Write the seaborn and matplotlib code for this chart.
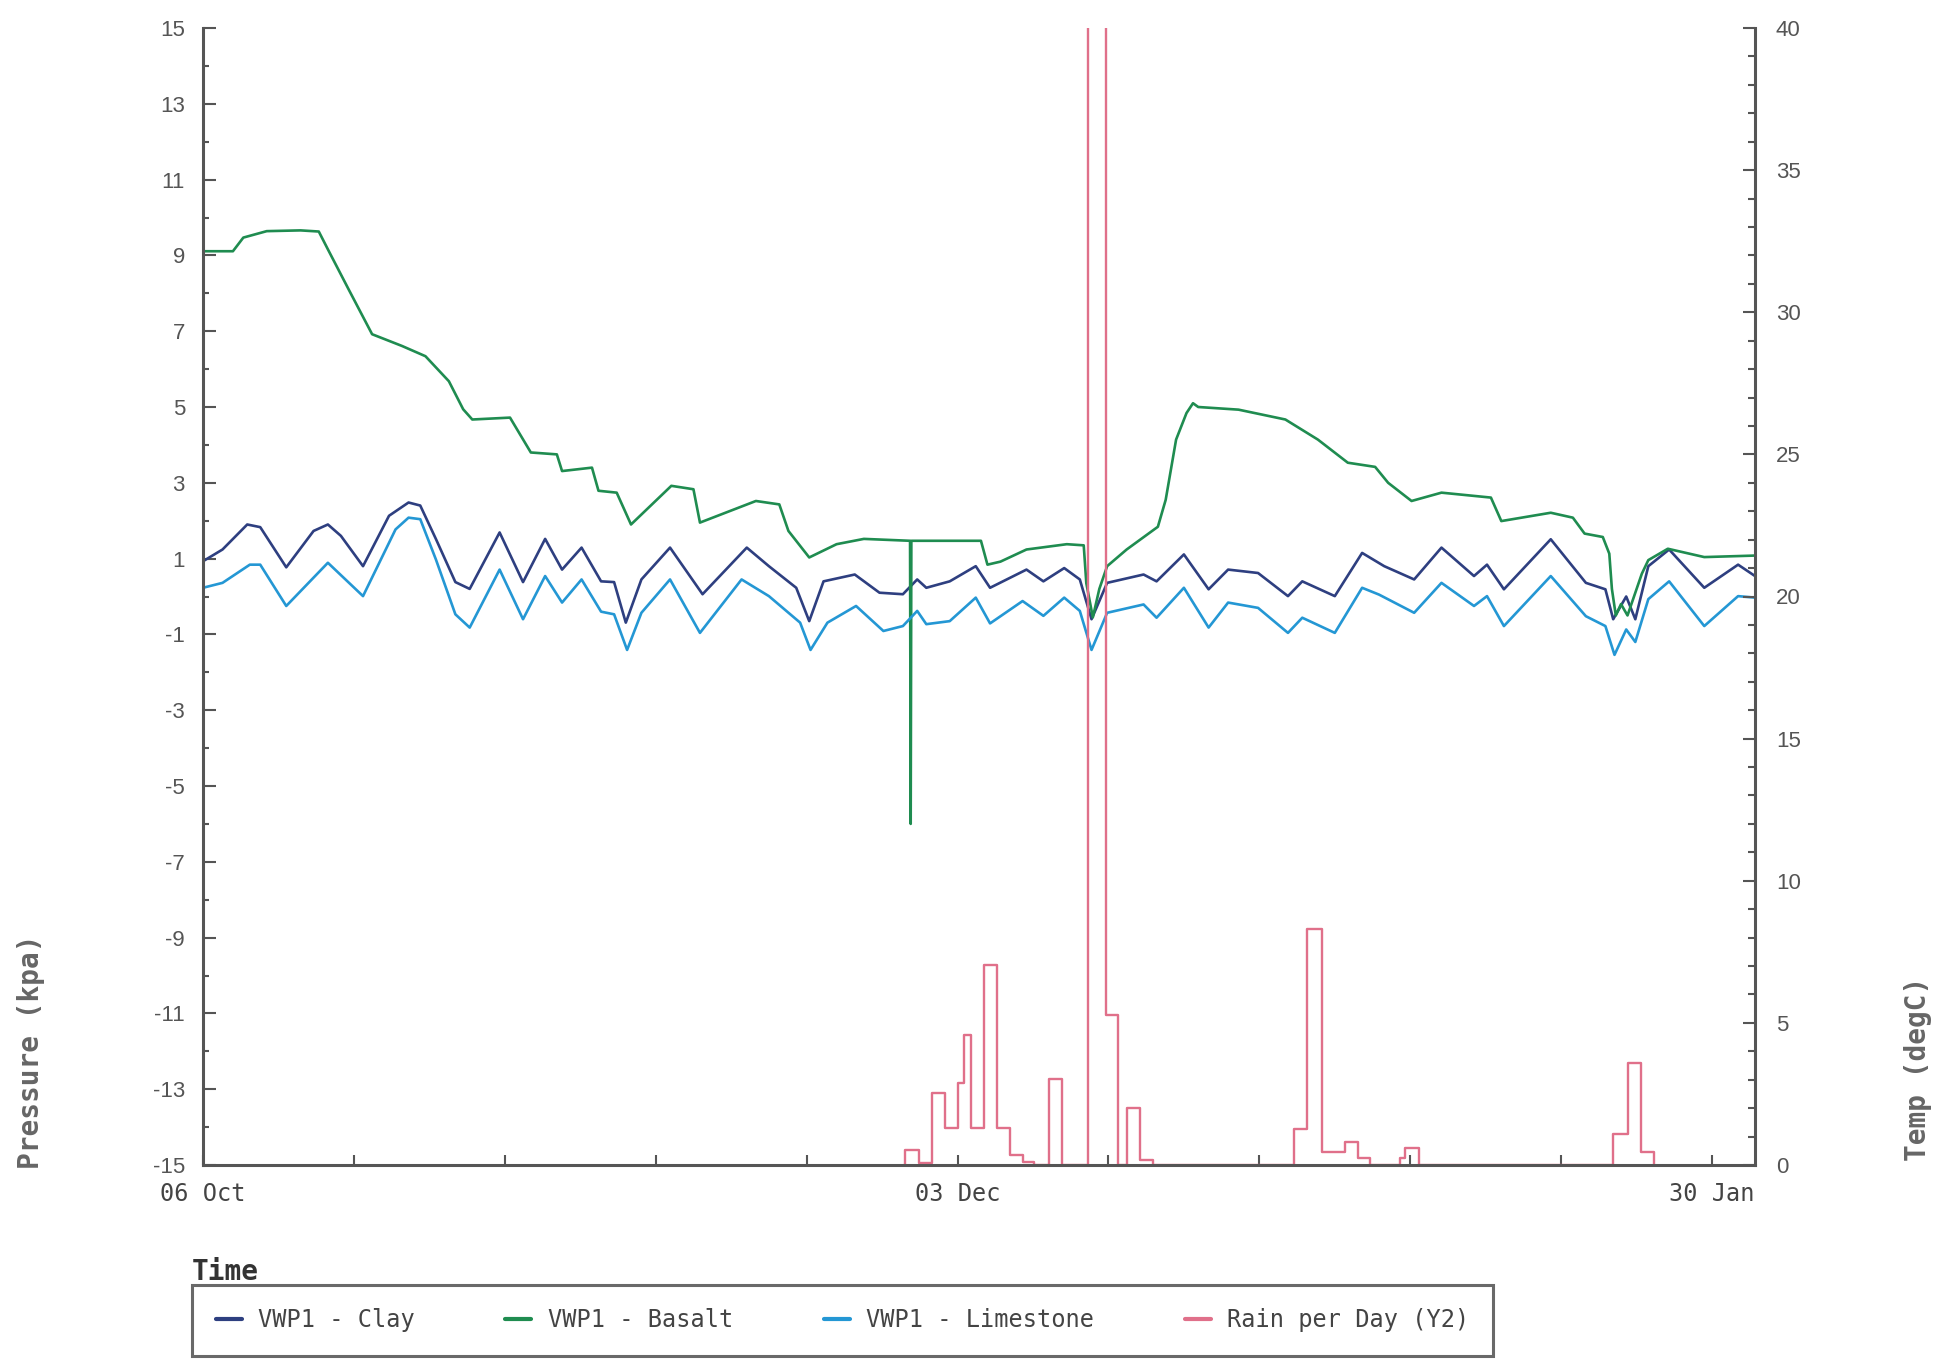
import numpy as np
import pandas as pd
import matplotlib
matplotlib.use("Agg")
import matplotlib.pyplot as plt
import seaborn as sns
from matplotlib.lines import Line2D
from matplotlib.ticker import FixedLocator, MultipleLocator

# ---------------- data (days since 06 Oct) ----------------
basalt_days = [0.0, 2.3, 3.1, 4.9, 7.5, 8.9, 9.6, 11.2, 13.0, 15.3, 17.1, 18.9, 20.0, 20.7,
               23.6, 25.2, 27.2, 27.6, 29.9, 30.4, 31.8, 32.9, 36.0, 37.7, 38.2, 42.5, 44.3,
               45.0, 46.6, 48.7, 50.8, 54.35, 54.4, 54.45, 57.4, 59.8, 60.3, 61.3, 63.3, 66.4,
               67.7, 67.9, 68.4, 68.9, 69.5, 71.0, 73.4, 74.0, 74.8, 75.6, 76.1, 76.5, 79.6,
               83.2, 85.7, 88.0, 90.1, 91.1, 92.9, 95.2, 99.0, 99.8, 103.6, 105.3, 106.2,
               107.6, 108.1, 108.3, 108.6, 109.0, 109.5, 110.0, 110.6, 111.1, 112.6, 115.4, 119.3]
basalt_kpa = [9.11, 9.11, 9.47, 9.64, 9.66, 9.63, 9.16, 8.10, 6.92, 6.61, 6.34, 5.68, 4.94, 4.67,
              4.72, 3.80, 3.75, 3.31, 3.40, 2.79, 2.74, 1.90, 2.92, 2.83, 1.95, 2.52, 2.43,
              1.73, 1.03, 1.38, 1.52, 1.47, -6.0, 1.47, 1.47, 1.47, 0.84, 0.92, 1.24, 1.38,
              1.35, 0.35, -0.55, 0.2, 0.80, 1.24, 1.84, 2.55, 4.14, 4.84, 5.10, 5.0, 4.93,
              4.67, 4.14, 3.53, 3.42, 3.0, 2.52, 2.74, 2.61, 1.99, 2.21, 2.08, 1.66,
              1.57, 1.13, 0.2, -0.5, -0.2, -0.5, 0.0, 0.6, 0.96, 1.26, 1.04, 1.08]

clay_days = [0, 1.5, 3.4, 4.4, 6.4, 8.5, 9.6, 10.6, 12.3, 14.3, 15.8, 16.7, 17.9, 19.4, 20.5,
             22.8, 24.6, 26.3, 27.6, 29.1, 30.6, 31.6, 32.5, 33.7, 35.9, 38.4, 41.8, 43.5,
             45.6, 46.6, 47.7, 50.1, 52.0, 53.8, 54.9, 55.6, 57.4, 59.4, 60.5, 63.3, 64.6,
             66.2, 67.4, 68.3, 69.5, 72.3, 73.3, 75.4, 77.3, 78.8, 81.1, 83.4, 84.5, 87.0,
             89.1, 90.8, 93.1, 95.2, 97.7, 98.7, 100.0, 103.6, 106.3, 107.8, 108.4, 109.4,
             110.1, 111.1, 112.7, 115.4, 118.0, 119.3]
clay_kpa = [0.93, 1.24, 1.90, 1.83, 0.77, 1.73, 1.90, 1.6, 0.80, 2.13, 2.48, 2.4, 1.52, 0.38, 0.20,
            1.69, 0.38, 1.52, 0.71, 1.29, 0.40, 0.38, -0.69, 0.45, 1.29, 0.06, 1.29, 0.80,
            0.23, -0.65, 0.40, 0.58, 0.10, 0.06, 0.45, 0.23, 0.40, 0.80, 0.23, 0.71, 0.40,
            0.75, 0.45, -0.6, 0.36, 0.58, 0.40, 1.11, 0.19, 0.71, 0.62, 0.01, 0.4, 0.01,
            1.15, 0.80, 0.45, 1.29, 0.54, 0.84, 0.19, 1.51, 0.36, 0.19, -0.6, 0.0,
            -0.6, 0.8, 1.24, 0.23, 0.84, 0.54]

lime_days = [0, 1.5, 3.6, 4.4, 6.4, 9.6, 12.3, 14.8, 15.8, 16.7, 17.9, 19.4, 20.5, 22.8, 24.6,
             26.3, 27.6, 29.1, 30.6, 31.6, 32.6, 33.7, 35.9, 38.2, 41.4, 43.5, 45.9, 46.7,
             48.0, 50.2, 52.3, 53.8, 54.9, 55.6, 57.4, 59.4, 60.5, 63.0, 64.6, 66.2, 67.4,
             68.3, 69.5, 72.3, 73.3, 75.4, 77.3, 78.8, 81.1, 83.4, 84.5, 87.0, 89.1, 90.4,
             93.1, 95.2, 97.7, 98.7, 100.0, 103.6, 106.3, 107.8, 108.5, 109.4, 110.1, 111.1,
             112.7, 115.4, 118.0, 119.3]
lime_kpa = [0.23, 0.36, 0.84, 0.84, -0.25, 0.89, 0.01, 1.77, 2.08, 2.04, 0.98, -0.47, -0.82, 0.71,
            -0.60, 0.54, -0.16, 0.45, -0.4, -0.47, -1.41, -0.43, 0.45, -0.96, 0.45, 0.01,
            -0.69, -1.41, -0.69, -0.25, -0.91, -0.78, -0.38, -0.73, -0.65, -0.03, -0.71,
            -0.12, -0.51, -0.03, -0.38, -1.41, -0.43, -0.21, -0.56, 0.23, -0.82, -0.16,
            -0.30, -0.96, -0.56, -0.96, 0.23, 0.05, -0.43, 0.36, -0.25, 0.01, -0.78, 0.54,
            -0.52, -0.78, -1.54, -0.87, -1.2, -0.07, 0.40, -0.78, 0.01, -0.03]

rain_days = [53.9, 54.0, 55.0, 56.0, 57.0, 58.0, 58.5, 59.0, 60.0, 61.0, 62.0, 63.0, 63.9, 65.0,
             66.0, 68.0, 69.4, 70.3, 71.0, 72.0, 73.0, 83.9, 84.9, 86.0, 87.8, 88.8, 89.7,
             92.0, 92.4, 93.5, 108.4, 109.5, 110.5, 111.5]
rain_mm = [0, 0.53, 0.06, 2.54, 1.29, 2.9, 4.57, 1.29, 7.03, 1.29, 0.35, 0.12, 0, 3.01,
           0, 48, 5.28, 0, 1.99, 0.18, 0, 1.25, 8.3, 0.45, 0.80, 0.23, 0,
           0.23, 0.61, 0, 1.08, 3.6, 0.45, 0]

x_tick_days = [0, 58, 116]
x_tick_labels = ["06 Oct", "03 Dec", "30 Jan"]
series_names = ["VWP1 - Clay", "VWP1 - Basalt", "VWP1 - Limestone", "Rain per Day (Y2)"]

# ---------------- style ----------------
sns.set_style("white")
plt.rcParams["font.family"] = ["DejaVu Sans Mono", "DejaVu Sans"]
plt.rcParams["axes.unicode_minus"] = False

c_clay = "#2e3f80"
c_basalt = "#1f8c50"
c_lime = "#2497d4"
c_rain = "#e0708a"
c_axis = "#555555"

W, H = 1938, 1365
fig = plt.figure(figsize=(W / 100, H / 100), dpi=100)
fig.patch.set_facecolor("white")
ax = fig.add_axes([203 / W, 1 - 1165 / H, (1755 - 203) / W, (1165 - 28) / H])
ax2 = ax.twinx()

sns.lineplot(x=clay_days, y=clay_kpa, ax=ax, color=c_clay, lw=1.9, estimator=None, sort=False)
sns.lineplot(x=basalt_days, y=basalt_kpa, ax=ax, color=c_basalt, lw=1.9, estimator=None, sort=False)
sns.lineplot(x=lime_days, y=lime_kpa, ax=ax, color=c_lime, lw=1.9, estimator=None, sort=False)
sns.lineplot(x=rain_days, y=rain_mm, ax=ax2, color=c_rain, lw=1.7, estimator=None, sort=False,
             drawstyle="steps-post")

ax.set_xlim(0, 119.3)
ax.set_ylim(-15, 15)
ax2.set_ylim(0, 40)
ax.set_xlabel("")
ax.set_ylabel("")
ax2.set_ylabel("")

for a in (ax, ax2):
    a.set_facecolor("none")
    a.grid(False)
    for s in a.spines.values():
        s.set_visible(False)
ax.spines["left"].set_visible(True)
ax2.spines["right"].set_visible(True)
ax2.spines["bottom"].set_visible(True)
for s in (ax.spines["left"], ax2.spines["right"], ax2.spines["bottom"]):
    s.set_color(c_axis)
    s.set_linewidth(2.2)

# left axis ticks
ax.yaxis.set_major_locator(FixedLocator(list(range(-15, 16, 2))))
ax.yaxis.set_minor_locator(MultipleLocator(1))
ax.tick_params(axis="y", which="major", direction="in", length=9.5, width=1.5, color=c_axis,
               pad=13, labelsize=16, labelcolor="#555555", left=True, right=False)
ax.tick_params(axis="y", which="minor", direction="in", length=4.5, width=1.5, color=c_axis,
               left=True, right=False)
for t in ax.get_yticklabels():
    t.set_family("Liberation Sans")

# right axis ticks
ax2.yaxis.set_major_locator(FixedLocator(list(range(0, 41, 5))))
ax2.yaxis.set_minor_locator(MultipleLocator(1))
ax2.tick_params(axis="y", which="major", direction="in", length=9, width=1.5, color=c_axis,
                pad=15, labelsize=16, labelcolor="#555555", right=True, left=False)
ax2.tick_params(axis="y", which="minor", direction="in", length=5, width=1.5, color=c_axis,
                right=True, left=False)
for t in ax2.get_yticklabels():
    t.set_family("Liberation Sans")

# x axis ticks
ax.xaxis.set_major_locator(FixedLocator(x_tick_days))
ax.set_xticklabels(x_tick_labels)
ax.xaxis.set_minor_locator(FixedLocator([11.6 * k for k in range(1, 11) if k % 5 != 0]))
ax.tick_params(axis="x", which="both", direction="in", length=7, width=1.5, color=c_axis,
               pad=12, labelsize=17, labelcolor="#444444", bottom=True, top=False)

# axis titles
fig.text(31 / W, 1 - 1052 / H, "Pressure (kpa)", rotation=90, ha="center", va="center",
         fontsize=20, fontweight="bold", color="#666666")
fig.text(1918 / W, 1 - 1069 / H, "Temp (degC)", rotation=90, ha="center", va="center",
         fontsize=20, fontweight="bold", color="#666666")
fig.text(192 / W, 1 - 1272 / H, "Time", ha="left", va="center",
         fontsize=20, fontweight="bold", color="#333333")

# legend
handles = [Line2D([], [], color=c, lw=3) for c in (c_clay, c_basalt, c_lime, c_rain)]
leg = fig.legend(handles, series_names, loc="upper left", ncol=4, mode="expand",
                 bbox_to_anchor=(192 / W, 1 - 1362 / H, (1493 - 192) / W, (1362 - 1285) / H),
                 frameon=True, fancybox=False, shadow=False, fontsize=17,
                 handlelength=1.1, handletextpad=0.7, borderpad=1.0, borderaxespad=0)
leg.get_frame().set_edgecolor("#444444")
leg.get_frame().set_linewidth(2.2)
for t in leg.get_texts():
    t.set_color("#444444")
leg.set_bbox_to_anchor((192 / W, 1 - 1285 / H, (1493 - 192) / W, 0.0001), transform=fig.transFigure)

fig.savefig("out.png", dpi=100, facecolor="white")
